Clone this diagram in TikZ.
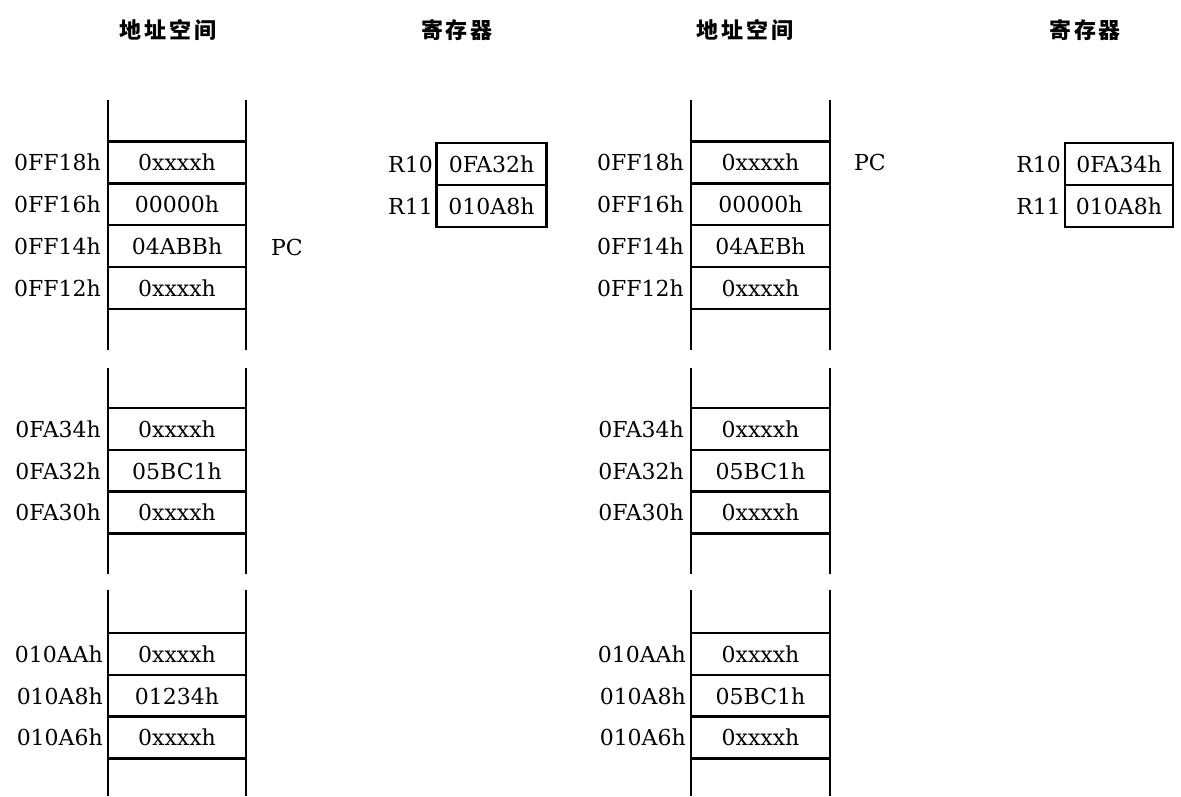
\documentclass[tikz,border=0pt]{standalone}
\usepackage{fontspec}
\setmainfont{DejaVu Serif}
\newfontfamily\cjk{Noto Sans CJK SC}
\begin{document}
\begin{tikzpicture}[x=1pt,y=-1pt,
  txt/.style={font=\fontsize{22}{22}\selectfont, inner sep=0pt},
  cell/.style={txt, draw, line width=2.4pt, minimum width=138pt, minimum height=42pt},
  reg/.style={txt, draw, line width=2.2pt, minimum width=110pt, minimum height=42pt},
  addr/.style={txt, anchor=east},
  wall/.style={line width=2.8pt},
  hdr/.style={font=\cjk\bfseries\fontsize{22}{22}\selectfont, inner sep=0pt}]
\useasboundingbox (0,0) rectangle (1181,796);
\fill[white] (0,0) rectangle (1181,796);

% headers
\node[hdr] (h1) at (168,30) {地\hspace{3pt}址\hspace{3pt}空\hspace{3pt}间};
\node[hdr] (h2) at (457,30) {寄\hspace{3pt}存\hspace{3pt}器};
\node[hdr] (h3) at (745,30) {地\hspace{3pt}址\hspace{3pt}空\hspace{3pt}间};
\node[hdr] (h4) at (1085,30) {寄\hspace{3pt}存\hspace{3pt}器};

% ---------- left address space ----------
\foreach \ya/\yb in {100/350, 368/574, 590/796}{
  \draw[wall] (108,\ya) -- (108,\yb);
  \draw[wall] (246,\ya) -- (246,\yb);
}
\node[cell] (la1) at (177,162.5) {0xxxxh};
\node[cell] (la2) at (177,204)   {00000h};
\node[cell] (la3) at (177,246)   {04ABBh};
\node[cell] (la4) at (177,288)   {0xxxxh};
\node[addr] (lb1) at (101,162.5) {0FF18h};
\node[addr] (lb2) at (101,204)   {0FF16h};
\node[addr] (lb3) at (101,246)   {0FF14h};
\node[addr] (lb4) at (101,288)   {0FF12h};
\node[txt] (pc1) at (287,247) {PC};

\node[cell] (lc1) at (177,429)   {0xxxxh};
\node[cell] (lc2) at (177,471)   {05BC1h};
\node[cell] (lc3) at (177,512.5) {0xxxxh};
\node[addr] (ld1) at (101,429)   {0FA34h};
\node[addr] (ld2) at (101,471)   {0FA32h};
\node[addr] (ld3) at (101,512.5) {0FA30h};

\node[cell] (le1) at (177,654)   {0xxxxh};
\node[cell] (le2) at (177,696)   {01234h};
\node[cell] (le3) at (177,737.5) {0xxxxh};
\node[addr] (lf1) at (103,654)   {010AAh};
\node[addr] (lf2) at (103,696)   {010A8h};
\node[addr] (lf3) at (103,737.5) {010A6h};

% left registers
\node[reg] (r10a) at (491.5,164) {0FA32h};
\node[reg] (r11a) at (491.5,206) {010A8h};
\node[addr] (r10la) at (433,164) {R10};
\node[addr] (r11la) at (433,206) {R11};

% ---------- right address space ----------
\foreach \ya/\yb in {100/350, 368/574, 590/796}{
  \draw[wall] (691,\ya) -- (691,\yb);
  \draw[wall] (830,\ya) -- (830,\yb);
}
\node[cell, minimum width=139pt] (ra1) at (760.5,162.5) {0xxxxh};
\node[cell, minimum width=139pt] (ra2) at (760.5,204)   {00000h};
\node[cell, minimum width=139pt] (ra3) at (760.5,246)   {04AEBh};
\node[cell, minimum width=139pt] (ra4) at (760.5,288)   {0xxxxh};
\node[addr] (rb1) at (684,162.5) {0FF18h};
\node[addr] (rb2) at (684,204)   {0FF16h};
\node[addr] (rb3) at (684,246)   {0FF14h};
\node[addr] (rb4) at (684,288)   {0FF12h};
\node[txt] (pc2) at (870,162) {PC};

\node[cell, minimum width=139pt] (rc1) at (760.5,429)   {0xxxxh};
\node[cell, minimum width=139pt] (rc2) at (760.5,471)   {05BC1h};
\node[cell, minimum width=139pt] (rc3) at (760.5,512.5) {0xxxxh};
\node[addr] (rd1) at (684,429)   {0FA34h};
\node[addr] (rd2) at (684,471)   {0FA32h};
\node[addr] (rd3) at (684,512.5) {0FA30h};

\node[cell, minimum width=139pt] (re1) at (760.5,654)   {0xxxxh};
\node[cell, minimum width=139pt] (re2) at (760.5,696)   {05BC1h};
\node[cell, minimum width=139pt] (re3) at (760.5,737.5) {0xxxxh};
\node[addr] (rf1) at (686,654)   {010AAh};
\node[addr] (rf2) at (686,696)   {010A8h};
\node[addr] (rf3) at (686,737.5) {010A6h};

% right registers
\node[reg, minimum width=108pt] (r10b) at (1119,164) {0FA34h};
\node[reg, minimum width=108pt] (r11b) at (1119,206) {010A8h};
\node[addr] (r10lb) at (1061,164) {R10};
\node[addr] (r11lb) at (1061,206) {R11};
\end{tikzpicture}
\end{document}
